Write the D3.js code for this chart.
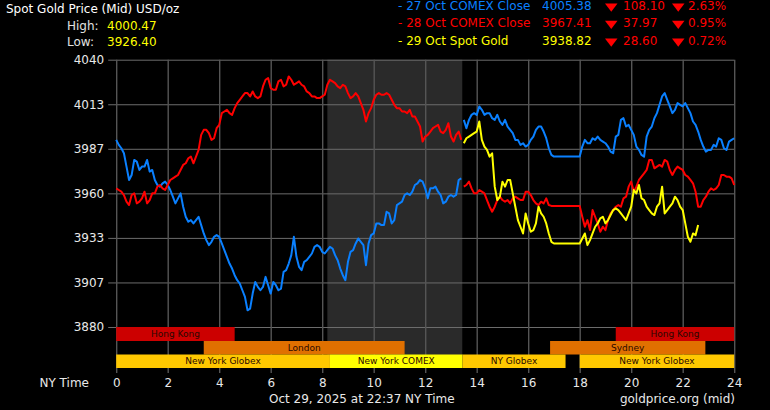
<!DOCTYPE html>
<html>
<head>
<meta charset="utf-8">
<script src="https://cdn.jsdelivr.net/npm/d3@7"></script>
<style>
  html, body { margin: 0; padding: 0; background: #000; }
  svg { display: block; font-family: "DejaVu Sans", sans-serif; }
</style>
</head>
<body>
<svg id="chart" width="770" height="410"></svg>
<script>
// ---- data ----
const hourTicks = [0, 2, 4, 6, 8, 10, 12, 14, 16, 18, 20, 22, 24];
const priceTicks = [3880, 3906.67, 3933.33, 3960, 3986.67, 4013.33, 4040];

// sample times (0.1 h): before the 13:30 close, then after it
const hoursA = d3.range(135).map(i => +(i * 0.1).toFixed(1));   // 0.0 .. 13.4
const hoursB = d3.range(135, 241).map(i => +(i * 0.1).toFixed(1)); // 13.5 .. 24.0

const oct27A = [
  3992, 3989, 3987, 3984, 3976, 3968, 3971, 3980, 3979, 3974,
  3976, 3976, 3980, 3973, 3974, 3968, 3965, 3964, 3966, 3967,
  3965, 3962, 3958, 3954, 3957, 3960, 3952, 3946, 3943, 3944,
  3942, 3944, 3946, 3941, 3936, 3932, 3929, 3931, 3934, 3935,
  3934, 3930, 3926, 3922, 3918, 3915, 3911, 3908, 3906, 3902,
  3898, 3890, 3891, 3900, 3907, 3904, 3902, 3904, 3910, 3905,
  3900, 3907, 3905, 3902, 3903, 3913, 3914, 3918, 3923, 3934,
  3922, 3916, 3914, 3919, 3920, 3922, 3924, 3928, 3929, 3928,
  3925, 3924, 3926, 3928, 3927, 3923, 3920, 3915, 3911, 3908,
  3919, 3925, 3926, 3930, 3933, 3931, 3929, 3917, 3930, 3935,
  3936, 3942, 3942, 3941, 3941, 3949, 3948, 3942, 3944, 3953,
  3954, 3955, 3959, 3960, 3959, 3961, 3965, 3966, 3968, 3967,
  3963, 3957, 3963, 3963, 3964, 3961, 3959, 3954, 3955, 3958,
  3959, 3958, 3959, 3968, 3969
];
const oct27B = [
  4004, 3999, 4004, 4007, 4008, 4007, 4012, 4010, 4007, 4008,
  4008, 4005, 4004, 4007, 4003, 4001, 4004, 4000, 3998, 3996,
  3992, 3992, 3989, 3990, 3988, 3989, 3992, 3994, 3998, 4000,
  4000, 3997, 3993, 3987, 3983, 3982, 3982, 3982, 3982, 3982,
  3982, 3982, 3982, 3982, 3982, 3982, 3988, 3992, 3990, 3990,
  3993, 3992, 3994, 3992, 3991, 3990, 3988, 3985, 3984, 3994,
  3995, 4004, 4005, 4000, 4001, 3998, 3995, 3988, 3986, 3983,
  3982, 3994, 3998, 4000, 4005, 4008, 4013, 4018, 4020, 4016,
  4012, 4008, 4010, 4014, 4013, 4012, 4014, 4011, 4008, 4003,
  4001, 3997, 3992, 3988, 3985, 3986, 3986, 3989, 3988, 3993,
  3992, 3987, 3986, 3991, 3992, 3993
];
const oct28A = [
  3963, 3962, 3961, 3959, 3955, 3953, 3959, 3960, 3954, 3955,
  3957, 3961, 3954, 3956, 3960, 3960, 3964, 3965, 3963, 3962,
  3965, 3968, 3969, 3970, 3971, 3974, 3977, 3978, 3981, 3982,
  3978, 3982, 3986, 3995, 3998, 3998, 3996, 3992, 3993, 3999,
  4001, 4008, 4009, 4010, 4008, 4007, 4011, 4014, 4016, 4018,
  4020, 4020, 4018, 4021, 4018, 4017, 4018, 4024, 4028, 4029,
  4023, 4022, 4022, 4027, 4028, 4024, 4025, 4030, 4028, 4025,
  4026, 4027, 4025, 4024, 4021, 4020, 4018, 4018, 4017, 4017,
  4018, 4019, 4025, 4028, 4027, 4026, 4024, 4023, 4025, 4024,
  4020, 4017, 4018, 4020, 4018, 4014, 4010, 4003, 4008, 4011,
  4016, 4019, 4020, 4019, 4019, 4020, 4019, 4016, 4013, 4011,
  4011, 4009, 4009, 4008, 4010, 4006, 4006, 4003, 4000, 3991,
  3994, 3995, 3997, 3999, 4000, 4001, 3997, 3996, 3998, 4002,
  3994, 3991, 3995, 3997, 3992
];
const oct28B = [
  3964, 3965, 3967, 3963, 3960, 3960, 3962, 3961, 3960, 3956,
  3952, 3949, 3952, 3956, 3958, 3956, 3955, 3956, 3954, 3957,
  3958, 3957, 3956, 3956, 3961, 3961, 3959, 3956, 3954, 3953,
  3955, 3954, 3957, 3953, 3952.5, 3952.5, 3952.5, 3952.5, 3952.5, 3952.5,
  3952.5, 3952.5, 3952.5, 3952.5, 3952.5, 3952.5, 3946, 3940, 3944, 3938,
  3950, 3946, 3942, 3937, 3940, 3938, 3944, 3948, 3950, 3952,
  3953, 3952, 3957, 3958, 3964, 3967, 3961, 3964, 3968, 3970,
  3972, 3974, 3980, 3980, 3975, 3976, 3977, 3976, 3980, 3979,
  3974, 3971, 3974, 3976, 3975, 3974, 3971, 3970, 3968, 3966,
  3961, 3952, 3952, 3956, 3958, 3961, 3963, 3962, 3963, 3965,
  3971, 3971, 3970, 3970, 3969, 3965
];
const oct29 = [
  3990, 3993, 3994, 3995, 3996, 3997, 4003, 3992, 3988, 3986,
  3982, 3984, 3964, 3956, 3958, 3967, 3964, 3968, 3968, 3960,
  3952, 3944, 3940, 3936, 3948, 3942, 3937, 3938, 3942, 3952,
  3948, 3946, 3942, 3936, 3931, 3930, 3930, 3930, 3930, 3930,
  3930, 3930, 3930, 3930, 3930, 3930, 3933, 3936, 3929, 3932,
  3936, 3940, 3942, 3945, 3946, 3942, 3944, 3947, 3950, 3951,
  3950, 3948, 3946, 3944, 3948, 3952, 3962, 3960, 3965, 3957,
  3956, 3952, 3950, 3948, 3947, 3952, 3954, 3964, 3948, 3950,
  3952, 3954, 3958, 3956, 3952, 3950, 3942, 3934, 3931, 3936,
  3935, 3941
];

const legendLabels = ['- 27 Oct COMEX Close', '- 28 Oct COMEX Close', '- 29 Oct Spot Gold'];
const legendPrices = ['4005.38', '3967.41', '3938.82'];
const legendChanges = ['108.10', '37.97', '28.60'];
const legendPercents = ['2.63%', '0.95%', '0.72%'];
const dayHigh = '4000.47';
const dayLow = '3926.40';

const sessionNames = ['Hong Kong', 'Hong Kong', 'London', 'Sydney',
  'New York Globex', 'New York COMEX', 'NY Globex', 'New York Globex'];
const sessionStart = [0, 19.4, 3.4, 16.85, 0, 8.3, 13.45, 18];
const sessionEnd = [4.6, 24, 11.2, 22.88, 8.3, 13.45, 17.45, 24];
const sessionRow = [0, 0, 1, 1, 2, 2, 2, 2];
const comexHours = [8.2, 13.44];

// ---- drawing ----
const svg = d3.select('#chart');
const x = d3.scaleLinear().domain([0, 24]).range([116.2, 734.2]);
const y = d3.scaleLinear().domain([3880, 4040]).range([327, 59.7]);
const rowTop = [327, 341, 354.5];
const rowH = [14, 13.5, 13.5];

const blue = '#0a80ff';
const red = '#ff0000';
const yellow = '#ffff00';
const sessionColor = {
  'Hong Kong': '#cc0000',
  'London': '#e07000',
  'Sydney': '#e07000',
  'New York Globex': '#ffc800',
  'NY Globex': '#ffc800',
  'New York COMEX': '#ffff00',
};

svg.append('rect').attr('width', 770).attr('height', 410).attr('fill', '#000');

// COMEX hours shading
svg.append('rect')
  .attr('x', x(comexHours[0]))
  .attr('y', y(4040))
  .attr('width', x(comexHours[1]) - x(comexHours[0]))
  .attr('height', 368 - y(4040))
  .attr('fill', '#2a2a2a');

// horizontal grid + y labels
const yAxis = d3.axisLeft(y).tickValues(priceTicks)
  .tickSize(-(x(24) - x(0))).tickSizeOuter(0).tickFormat(d3.format('.0f'));
const gy = svg.append('g').attr('transform', `translate(${x(0)},0)`).call(yAxis);
gy.select('.domain').remove();
gy.selectAll('.tick line').attr('stroke', '#6c6c6c').attr('x1', -8);
gy.selectAll('.tick text').attr('x', -12).attr('fill', '#e8e8e8')
  .attr('font-size', 12).attr('font-family', 'DejaVu Sans');

// vertical grid + x labels
const xAxis = d3.axisBottom(x).tickValues(hourTicks)
  .tickSize(373 - y(4040)).tickSizeOuter(0).tickFormat(d3.format('d'));
const gx = svg.append('g').attr('transform', `translate(0,${y(4040)})`).call(xAxis);
gx.select('.domain').remove();
gx.selectAll('.tick line').attr('stroke', '#555').attr('stroke-width', 1.4);
gx.selectAll('.tick text').attr('y', 373 - y(4040) + 5).attr('dy', '0.71em')
  .attr('fill', '#e8e8e8').attr('font-size', 12).attr('font-family', 'DejaVu Sans');

// session bars
const sessions = sessionNames.map((name, i) => ({
  name, start: sessionStart[i], end: sessionEnd[i], row: sessionRow[i],
}));
const sg = svg.append('g');
sg.selectAll('rect')
  .data(sessions)
  .enter()
  .append('rect')
  .attr('x', d => x(d.start))
  .attr('y', d => rowTop[d.row])
  .attr('width', d => x(d.end) - x(d.start))
  .attr('height', d => rowH[d.row])
  .attr('fill', d => sessionColor[d.name]);
sg.selectAll('text')
  .data(sessions)
  .enter()
  .append('text')
  .attr('x', d => (x(d.start) + x(d.end)) / 2)
  .attr('y', d => rowTop[d.row] + rowH[d.row] / 2)
  .attr('dy', '0.35em')
  .attr('text-anchor', 'middle')
  .attr('font-size', 9)
  .attr('fill', '#2a0800')
  .text(d => d.name);

// price lines
const line = d3.line()
  .x(d => x(d[0]))
  .y(d => y(d[1]));
const series = [
  { hours: hoursA, values: oct27A, color: blue },
  { hours: hoursB, values: oct27B, color: blue },
  { hours: hoursA, values: oct28A, color: red },
  { hours: hoursB, values: oct28B, color: red },
  { hours: hoursB, values: oct29, color: yellow },
];
svg.append('g')
  .selectAll('path')
  .data(series)
  .enter()
  .append('path')
  .attr('d', s => line(s.values.map((v, i) => [s.hours[i], v])))
  .attr('fill', 'none')
  .attr('stroke', s => s.color)
  .attr('stroke-width', 2)
  .attr('stroke-linejoin', 'round');

// header text
const txt = (tx, ty, str, fill, anchor = 'start', size = 12) => svg.append('text')
  .attr('x', tx).attr('y', ty).attr('fill', fill)
  .attr('font-size', size).attr('text-anchor', anchor).text(str);

txt(6, 13, 'Spot Gold Price (Mid) USD/oz', '#ffffff');
txt(67, 29.5, 'High:', '#e0e0e0');
txt(107, 29.5, dayHigh, yellow);
txt(67, 46, 'Low:', '#e0e0e0');
txt(107, 46, dayLow, yellow);

const legendColors = [blue, red, yellow];
const legendBase = [10, 27.3, 45];
legendLabels.forEach((label, i) => {
  const by = legendBase[i];
  txt(398, by, label, legendColors[i]);
  txt(542, by, legendPrices[i], legendColors[i]);
  [605, 672].forEach(tx => {
    svg.append('path')
      .attr('d', `M${tx},${by - 6.6}L${tx + 12.5},${by - 6.6}L${tx + 6.25},${by + 1.8}Z`)
      .attr('fill', red);
  });
  txt(623, by, legendChanges[i], red);
  txt(688, by, legendPercents[i], red);
});

// footer
txt(89, 387, 'NY Time', '#e8e8e8', 'end');
txt(269, 403, 'Oct 29, 2025 at 22:37 NY Time', '#e8e8e8');
txt(735, 403, 'goldprice.org (mid)', '#e8e8e8', 'end');
</script>
</body>
</html>
